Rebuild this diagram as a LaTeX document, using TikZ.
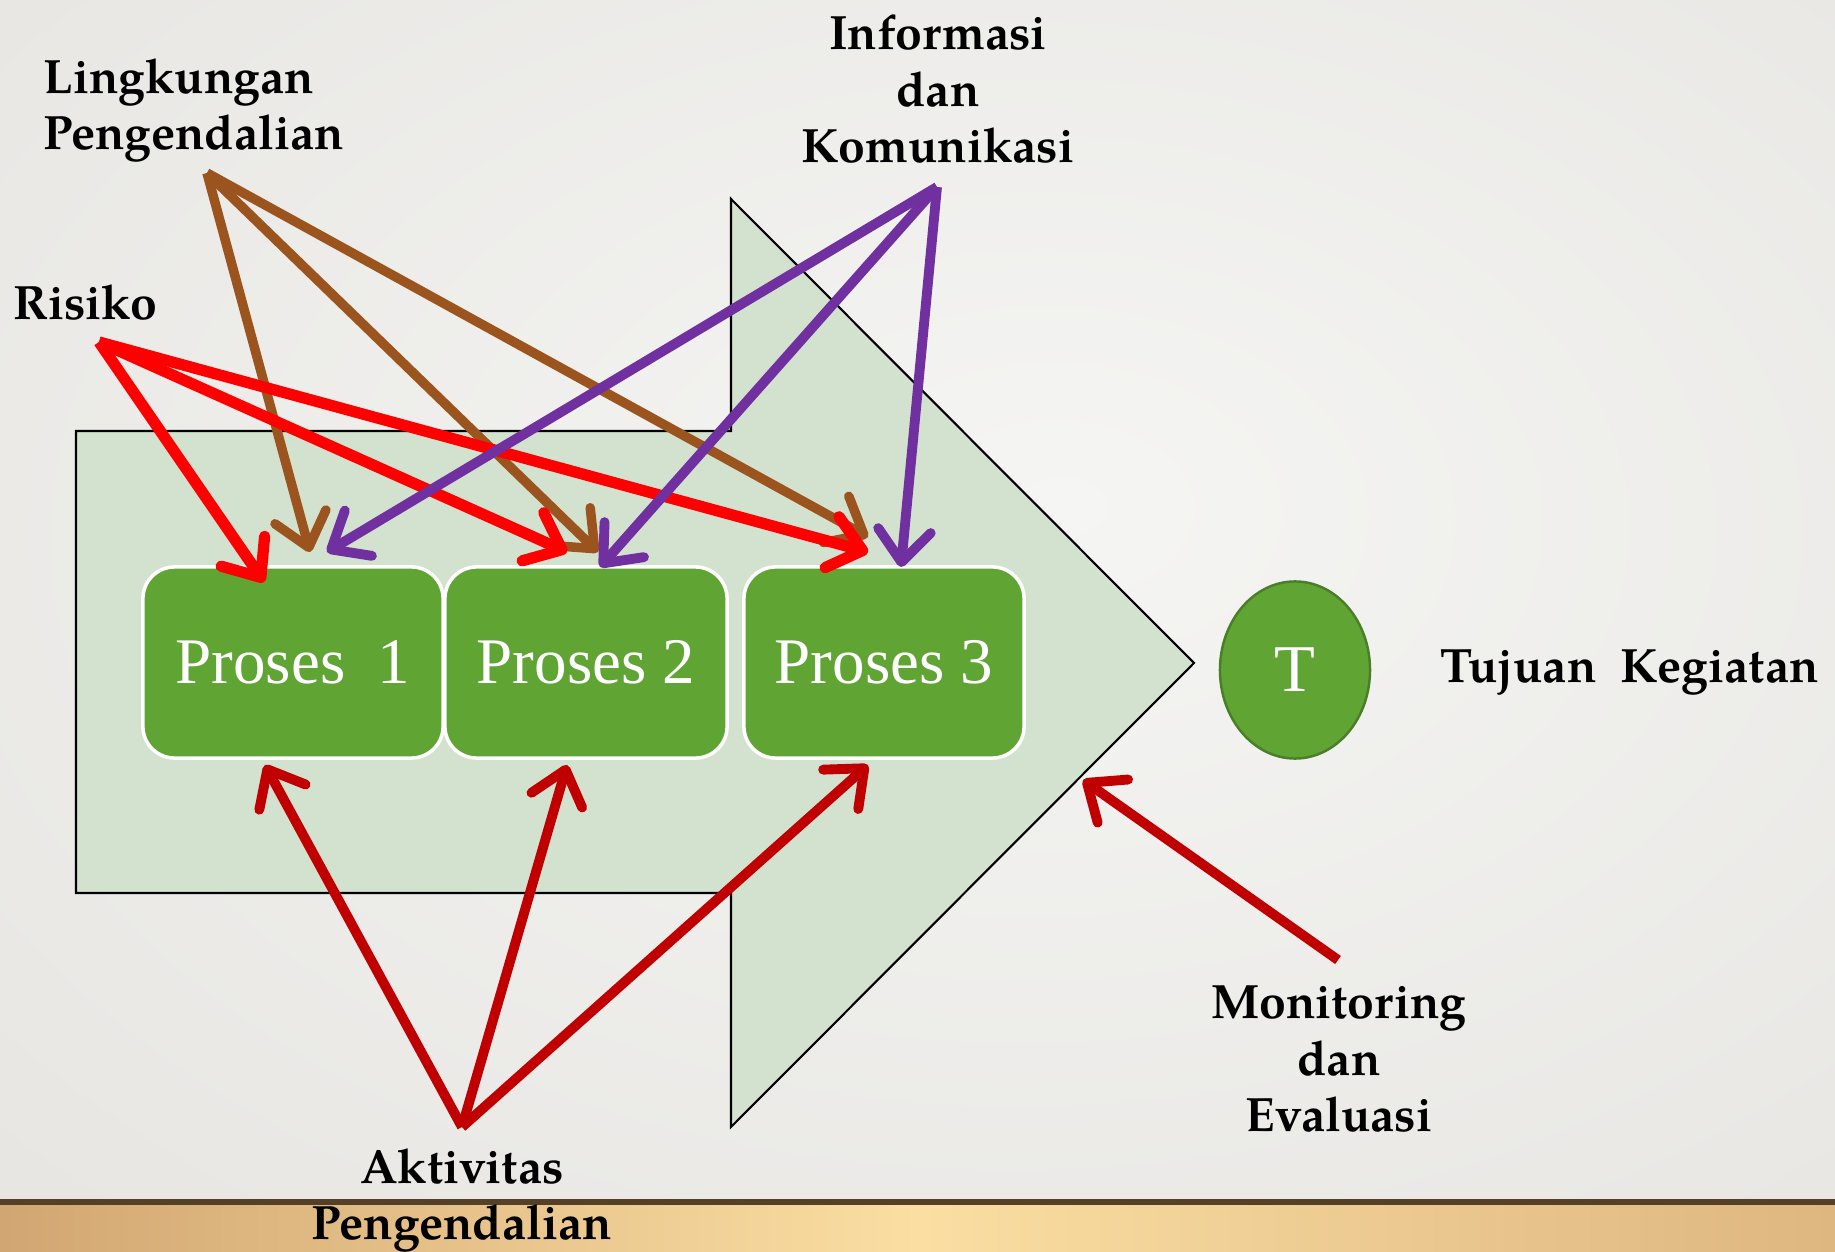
\documentclass[tikz,border=0pt]{standalone}
\usepackage{fontspec}
\setmainfont{TeX Gyre Pagella}
\newfontfamily\procfont{Liberation Serif}
\usetikzlibrary{arrows.meta,shapes.geometric}

\definecolor{bgin}{RGB}{245,245,243}
\definecolor{bgmid}{RGB}{232,231,228}
\definecolor{bgout}{RGB}{214,213,209}
\definecolor{woodL}{RGB}{210,166,114}
\definecolor{woodM}{RGB}{250,222,162}
\definecolor{woodR}{RGB}{222,182,128}
\definecolor{woodEdge}{RGB}{84,64,38}
\definecolor{bandfill}{RGB}{211,226,207}
\definecolor{procgreen}{RGB}{96,165,52}
\definecolor{ringgreen}{RGB}{74,126,40}
\definecolor{lkbrown}{RGB}{156,84,30}
\definecolor{rsred}{RGB}{255,0,0}
\definecolor{ikpurple}{RGB}{112,48,160}
\definecolor{akred}{RGB}{192,0,0}

% soft slide background, brightest slightly right of centre
\pgfdeclareradialshading{slidebg}{\pgfpoint{4bp}{4bp}}{color(0bp)=(bgin); color(35bp)=(bgmid); color(75bp)=(bgout)}

\begin{document}
\begin{tikzpicture}[x=0.01cm,y=-0.01cm,
  lbl/.style={font=\fontsize{13.7}{16.2}\selectfont\bfseries, inner sep=0pt, text=black},
  procbox/.style={rectangle, rounded corners=9pt, fill=procgreen, draw=white,
    line width=1pt, minimum height=1.91cm, inner sep=0pt, text=white,
    font=\procfont\fontsize{18.5}{20}\selectfont},
  link/.style={line width=2.8pt, -{Straight Barb[length=9pt,width=15pt,round]}},
]
\useasboundingbox (0,0) rectangle (1835,1252);

% background and wooden ledge
\shade[shading=slidebg] (0,0) rectangle (1835,1202);
\shade[left color=woodL, right color=woodR, middle color=woodM] (0,1202) rectangle (1835,1252);
\fill[woodEdge] (0,1199) rectangle (1835,1205);

% large arrow band behind the processes
\draw[fill=bandfill, line width=0.6pt] (76,431) -- (731,431) -- (731,199) -- (1194,663)
  -- (731,1127) -- (731,893) -- (76,893) -- cycle;

% processes and goal
\node[procbox, minimum width=3cm] (p1) at (293,662.5) {Proses\ \ 1};
\node[procbox, minimum width=2.82cm] (p2) at (586,662.5) {Proses 2};
\node[procbox, minimum width=2.80cm] (p3) at (884,662.5) {Proses 3};
\node[ellipse, fill=procgreen, draw=ringgreen, line width=0.7pt, minimum width=1.5cm,
  minimum height=1.77cm, inner sep=0pt, text=white,
  font=\procfont\fontsize{19}{20}\selectfont] (goal) at (1295,670) {T};

% labels (base anchor of a multi-line node sits on its last line)
\node[lbl, anchor=base west, align=left] (lk) at (43,150) {Lingkungan\\Pengendalian};
\node[lbl, anchor=base west] (rs) at (13,320) {Risiko};
\node[lbl, anchor=base, align=center] (ik) at (938,163) {Informasi\\dan\\Komunikasi};
\node[lbl, anchor=base west] (tk) at (1440,683) {Tujuan\ \ Kegiatan};
\node[lbl, anchor=base, align=center] (me) at (1339,1132) {Monitoring\\dan\\Evaluasi};
\node[lbl, anchor=base, align=center] (ak) at (462,1240) {Aktivitas\\Pengendalian};

% connector start points below each label
\coordinate (lkS) at (207,173);
\coordinate (rsS) at (99,342);
\coordinate (ikS) at (937,187);
\coordinate (akS) at (462,1127);
\coordinate (meS) at (1338,960);

% arrow tips at the processes
\coordinate (lk1) at (310,552);
\coordinate (lk2) at (598,552);
\coordinate (lk3) at (868,537);
\coordinate (rs1) at (264,582);
\coordinate (rs2) at (567,552);
\coordinate (rs3) at (868,552);
\coordinate (ik1) at (327,552);
\coordinate (ik2) at (600,567);
\coordinate (ik3) at (901,567);
\coordinate (ak1) at (265,765);
\coordinate (ak2) at (567,765);
\coordinate (ak3) at (868,765);
\coordinate (meT) at (1083,780);

\draw[link, lkbrown, line width=2.7pt] (lkS) -- (lk1);
\draw[link, lkbrown, line width=2.7pt] (lkS) -- (lk2);
\draw[link, lkbrown, line width=2.7pt] (lkS) -- (lk3);
\draw[link, rsred, line width=3.2pt] (rsS) -- (rs1);
\draw[link, rsred, line width=3.2pt] (rsS) -- (rs2);
\draw[link, rsred, line width=3.2pt] (rsS) -- (rs3);
\draw[link, ikpurple] (ikS) -- (ik1);
\draw[link, ikpurple] (ikS) -- (ik2);
\draw[link, ikpurple] (ikS) -- (ik3);
\draw[link, akred] (akS) -- (ak1);
\draw[link, akred] (akS) -- (ak2);
\draw[link, akred] (akS) -- (ak3);
\draw[link, akred] (meS) -- (meT);
\end{tikzpicture}
\end{document}
